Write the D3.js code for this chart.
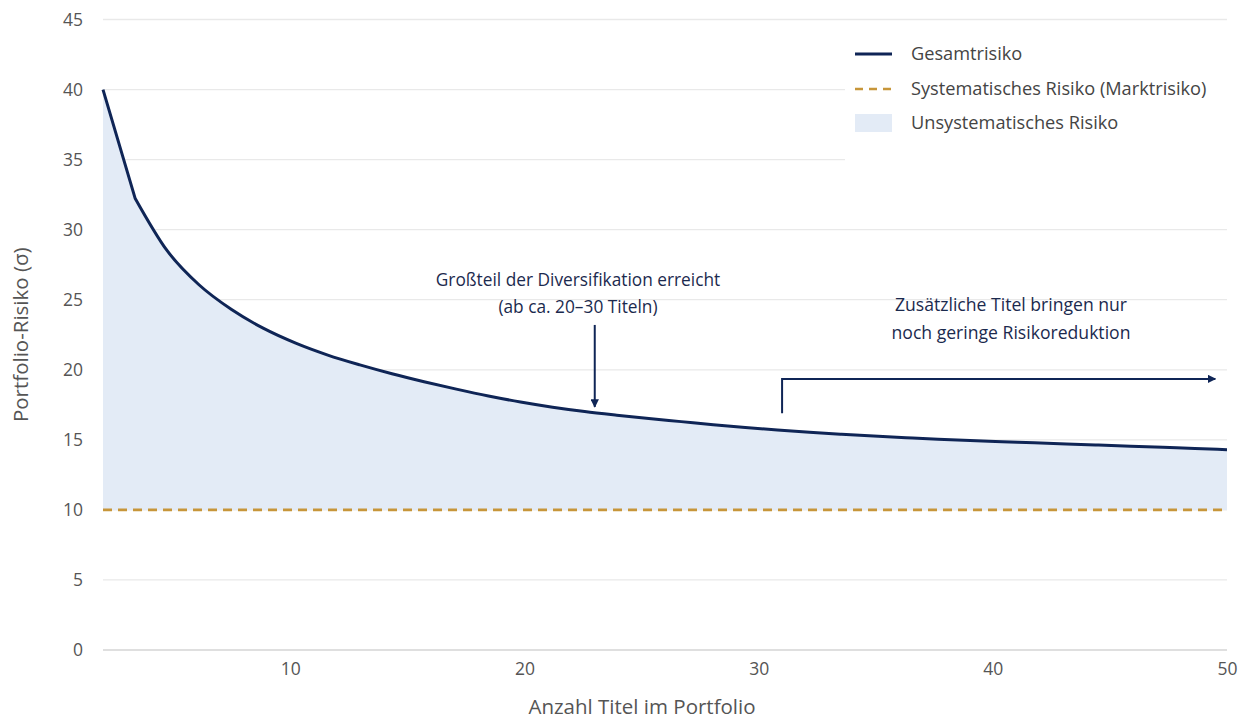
<!DOCTYPE html>
<html>
<head>
<meta charset="utf-8">
<script src="https://cdn.jsdelivr.net/npm/d3@7"></script>
<style>
  html, body { margin: 0; padding: 0; background: #fff; }
  svg { display: block; font-family: "Open Sans", Lato, sans-serif; }
</style>
</head>
<body>
<svg id="chart" width="1247" height="720"></svg>
<script>
// Number of holdings in the portfolio
const holdings = [2, 3.37, 4.74, 6.11, 7.49, 8.86, 10.23, 11.6, 12.97, 14.34, 15.71, 17.09,
  18.46, 19.83, 21.2, 22.57, 23.94, 25.31, 26.69, 28.06, 29.43, 30.8, 32.17, 33.54,
  34.91, 36.29, 37.66, 39.03, 40.4, 41.77, 43.14, 44.51, 45.89, 47.26, 48.63, 50];
// Total portfolio risk (σ) for each holding count
const totalRisk = [40.0, 32.25, 28.5, 26.05, 24.3, 22.95, 21.9, 21.05, 20.35, 19.72, 19.15, 18.62,
  18.13, 17.7, 17.33, 17.02, 16.76, 16.52, 16.3, 16.08, 15.88, 15.7, 15.54, 15.4,
  15.27, 15.15, 15.04, 14.95, 14.87, 14.79, 14.71, 14.63, 14.55, 14.47, 14.38, 14.3];
// Systematic (market) risk floor
const systematicRisk = 10;

const xTicks = [10, 20, 30, 40, 50];
const yTicks = [0, 5, 10, 15, 20, 25, 30, 35, 40, 45];

const legendItems = ["Gesamtrisiko", "Systematisches Risiko (Marktrisiko)", "Unsystematisches Risiko"];
const noteLeft = ["Großteil der Diversifikation erreicht", "(ab ca. 20–30 Titeln)"];
const noteRight = ["Zusätzliche Titel bringen nur", "noch geringe Risikoreduktion"];
// Annotation anchors in data units
const noteLeftArrow = { n: 23, from: 23.2, to: 17.35 };
const noteRightArrow = { n0: 31, n1: 49.5, yLow: 16.9, yHigh: 19.35 };

const navy = "#0f2556";
const gold = "#c7963a";
const fillBlue = "#e3ebf6";
const gridColor = "#e9e9e9";
const tickColor = "#555";

const svg = d3.select("#chart");
const x = d3.scaleLinear().domain([2, 50]).range([103, 1227]);
const y = d3.scaleLinear().domain([0, 45]).range([650, 19.5]);

const data = holdings.map((n, i) => ({ n, v: totalRisk[i] }));

// Curve: straight first step, smooth thereafter
const smooth = d3.line().x(d => x(d.n)).y(d => y(d.v)).curve(d3.curveMonotoneX);
const curvePath = `M${x(data[0].n)},${y(data[0].v)}L` + smooth(data.slice(1)).slice(1);

// Gridlines
svg.append("g").selectAll("line").data(yTicks).join("line")
  .attr("x1", x(2)).attr("x2", x(50))
  .attr("y1", d => y(d)).attr("y2", d => y(d))
  .attr("stroke", d => d === 0 ? "#d4d4d4" : gridColor)
  .attr("stroke-width", 1.3);

// Unsystematic risk band between market floor and total risk
svg.append("path")
  .attr("fill", fillBlue)
  .attr("d", curvePath + `L${x(50)},${y(systematicRisk)}L${x(2)},${y(systematicRisk)}Z`);

// Systematic risk dashed line
svg.append("line")
  .attr("x1", x(2)).attr("x2", x(50))
  .attr("y1", y(systematicRisk)).attr("y2", y(systematicRisk))
  .attr("stroke", gold).attr("stroke-width", 2.6)
  .attr("stroke-dasharray", "9,6");

// Total risk curve
svg.append("path")
  .attr("fill", "none").attr("stroke", navy).attr("stroke-width", 3)
  .attr("stroke-linejoin", "round")
  .attr("d", curvePath);

// Axes (labels only)
const yAxis = d3.axisLeft(y).tickValues(yTicks).tickSize(0).tickPadding(20);
const gy = svg.append("g").attr("transform", `translate(${x(2)},0)`).call(yAxis);
gy.select(".domain").remove();
gy.selectAll("text").attr("font-size", 17.5).attr("fill", tickColor).attr("font-family", "'Open Sans', sans-serif");

const xAxis = d3.axisBottom(x).tickValues(xTicks).tickSize(0).tickPadding(13);
const gx = svg.append("g").attr("transform", `translate(0,${y(0)})`).call(xAxis);
gx.select(".domain").remove();
gx.selectAll("text").attr("font-size", 17.5).attr("fill", tickColor).attr("font-family", "'Open Sans', sans-serif");

// Axis titles
svg.append("text")
  .attr("x", 642).attr("y", 714)
  .attr("text-anchor", "middle").attr("font-size", 20.5).attr("fill", tickColor)
  .text("Anzahl Titel im Portfolio");
svg.append("text")
  .attr("transform", `translate(28,${(y(0) + y(45)) / 2}) rotate(-90)`)
  .attr("text-anchor", "middle").attr("font-size", 20.5).attr("fill", tickColor)
  .text("Portfolio-Risiko (σ)");

// Legend
const lg = svg.append("g");
lg.append("rect").attr("x", 845).attr("y", 26).attr("width", 400).attr("height", 136).attr("fill", "#fff");
const rows = [54, 89, 123];
lg.append("line").attr("x1", 855).attr("x2", 892).attr("y1", rows[0]).attr("y2", rows[0])
  .attr("stroke", navy).attr("stroke-width", 3.2);
lg.append("line").attr("x1", 855).attr("x2", 892).attr("y1", rows[1]).attr("y2", rows[1])
  .attr("stroke", gold).attr("stroke-width", 2.6).attr("stroke-dasharray", "8,6");
lg.append("rect").attr("x", 855).attr("y", rows[2] - 9).attr("width", 37).attr("height", 18)
  .attr("fill", fillBlue);
lg.selectAll("text.item").data(legendItems).join("text")
  .attr("class", "item")
  .attr("x", 911).attr("y", (d, i) => rows[i]).attr("dy", "0.35em")
  .attr("font-size", 18.2).attr("fill", "#444")
  .text(d => d);

// Arrow marker
const defs = svg.append("defs");
defs.append("marker").attr("id", "head")
  .attr("viewBox", "0 0 10 10").attr("refX", 9).attr("refY", 5)
  .attr("markerWidth", 4.2).attr("markerHeight", 4.2).attr("markerUnits", "strokeWidth")
  .attr("orient", "auto")
  .append("path").attr("d", "M0,0 L10,5 L0,10 Z").attr("fill", navy);

// Left annotation
svg.append("g").selectAll("text").data(noteLeft).join("text")
  .attr("x", 578).attr("y", (d, i) => 280 + i * 27).attr("dy", "0.35em")
  .attr("text-anchor", "middle").attr("font-size", 17.3).attr("fill", "#1b2a4e")
  .text(d => d);
svg.append("line")
  .attr("x1", x(noteLeftArrow.n)).attr("x2", x(noteLeftArrow.n))
  .attr("y1", y(noteLeftArrow.from)).attr("y2", y(noteLeftArrow.to))
  .attr("stroke", navy).attr("stroke-width", 2).attr("marker-end", "url(#head)");

// Right annotation
svg.append("g").selectAll("text").data(noteRight).join("text")
  .attr("x", 1011).attr("y", (d, i) => 305 + i * 27.5).attr("dy", "0.35em")
  .attr("text-anchor", "middle").attr("font-size", 17.6).attr("fill", "#1b2a4e")
  .text(d => d);
svg.append("path")
  .attr("d", `M${x(noteRightArrow.n0)},${y(noteRightArrow.yLow)} L${x(noteRightArrow.n0)},${y(noteRightArrow.yHigh)} L${x(noteRightArrow.n1)},${y(noteRightArrow.yHigh)}`)
  .attr("fill", "none").attr("stroke", navy).attr("stroke-width", 2)
  .attr("marker-end", "url(#head)");
</script>
</body>
</html>
